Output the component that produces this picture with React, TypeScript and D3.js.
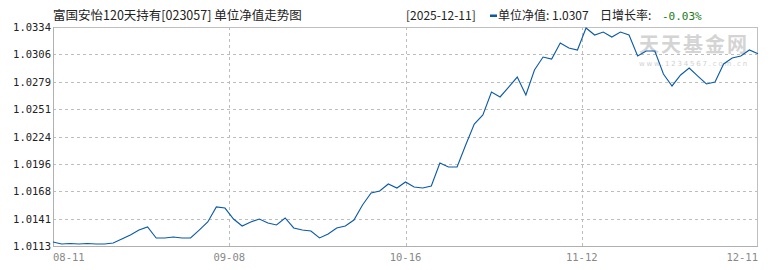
import React from "react";
import * as d3 from "d3";

const navValues: number[] = [
  1.0117, 1.0115, 1.01155, 1.0115, 1.01155, 1.0115, 1.0115, 1.0116, 1.01201, 1.01241,
  1.01291, 1.01322, 1.01211, 1.01211, 1.01221, 1.01211, 1.01211, 1.01291, 1.01372, 1.01524,
  1.01513, 1.01402, 1.01332, 1.01372, 1.01402, 1.01362, 1.01342, 1.01413, 1.01312, 1.01291,
  1.01281, 1.01211, 1.01251, 1.01312, 1.01332, 1.01392, 1.01544, 1.01665, 1.01685, 1.01756,
  1.01715, 1.01776, 1.01725, 1.01715, 1.01735, 1.01968, 1.01927, 1.01927, 1.02149, 1.02361,
  1.02452, 1.02684, 1.02634, 1.02734, 1.02835, 1.02654, 1.02906, 1.03037, 1.03017, 1.03178,
  1.03128, 1.03108, 1.0333, 1.03259, 1.03289, 1.03239, 1.03289, 1.03259, 1.03047, 1.03098,
  1.03098, 1.02866, 1.02745, 1.02856, 1.02926, 1.02845, 1.02765, 1.02785, 1.02967, 1.03027,
  1.03047, 1.03108, 1.0307,
];

const xTickLabels: string[] = ["08-11", "09-08", "10-16", "11-12", "12-11"];
const yMin = 1.0113;
const yMax = 1.0334;
const yTickCount = 8;

const titleText = "富国安怡120天持有[023057] 单位净值走势图";
const dateText = "[2025-12-11]";
const navLabel = "单位净值: 1.0307";
const rateLabel = "日增长率:";
const rateValue = "-0.03%";

const W = 770;
const H = 270;
const margin = { left: 53, right: 12, top: 27, bottom: 24 };

export default function App() {
  const innerW = W - margin.left - margin.right;
  const innerH = H - margin.top - margin.bottom;
  const x = d3.scaleLinear().domain([0, navValues.length - 1]).range([margin.left, margin.left + innerW]);
  const y = d3.scaleLinear().domain([yMin, yMax]).range([margin.top + innerH, margin.top]);
  const yTicks = d3.range(yTickCount + 1).map((i) => yMin + ((yMax - yMin) * i) / yTickCount);
  const xTicks = xTickLabels.map((label, i) => ({
    label,
    pos: ((navValues.length - 1) * i) / (xTickLabels.length - 1),
  }));
  const line = d3
    .line<number>()
    .x((_, i) => x(i))
    .y((d) => y(d));
  const left = margin.left;
  const right = margin.left + innerW;
  const top = margin.top;
  const bottom = margin.top + innerH;
  const mono = "'DejaVu Sans Mono', monospace";
  const cjk = "'Noto Sans CJK SC', sans-serif";

  return (
    <svg width={W} height={H} style={{ position: "absolute", left: 0, top: 0, background: "#fff" }}>
      <rect x={0} y={0} width={W} height={H} fill="#fff" />
      {/* horizontal grid */}
      {yTicks.slice(1, -1).map((t, i) => (
        <line key={"hg" + i} x1={left} x2={right} y1={Math.round(y(t)) + 0.5} y2={Math.round(y(t)) + 0.5}
          stroke="#bdbdbd" strokeDasharray="3,3" />
      ))}
      {/* vertical grid */}
      {xTicks.slice(1, -1).map((t, i) => (
        <line key={"vg" + i} x1={Math.round(x(t.pos)) + 0.5} x2={Math.round(x(t.pos)) + 0.5} y1={top} y2={bottom}
          stroke="#bdbdbd" strokeDasharray="3,3" />
      ))}
      {/* watermark */}
      <text x={694} y={52} textAnchor="middle" fontFamily={cjk} fontWeight="bold" fontSize={20}
        fill="#d4d4d4" letterSpacing={2}>天天基金网</text>
      <text x={694} y={66} textAnchor="middle" fontFamily="'DejaVu Sans', sans-serif" fontSize={7}
        fill="#d0d0d0" letterSpacing={1.8}>www.1234567.com.cn</text>
      {/* frame */}
      <rect x={left + 0.5} y={top + 0.5} width={innerW - 1} height={innerH} fill="none" stroke="#c0c0c0" />
      <line x1={left + 0.5} x2={left + 0.5} y1={top} y2={bottom + 1} stroke="#b0b0b0" />
      <line x1={left} x2={right} y1={bottom + 0.5} y2={bottom + 0.5} stroke="#b0b0b0" />
      {/* line */}
      <path d={line(navValues) || ""} fill="none" stroke="#0a5aa8" strokeWidth={1.1} />
      {/* y labels */}
      {yTicks.map((t, i) => (
        <text key={"yl" + i} x={left - 2} y={y(t) + 4} textAnchor="end" fontFamily={mono} fontSize={10.5}
          fill="#222">{t.toFixed(4)}</text>
      ))}
      {/* x labels */}
      {xTicks.map((t, i) => (
        <text key={"xl" + i} x={x(t.pos)} y={261}
          textAnchor={i === 0 ? "start" : i === xTicks.length - 1 ? "end" : "middle"}
          fontFamily={mono} fontSize={10.5} fill="#888">{t.label}</text>
      ))}
      {/* header */}
      <text x={53} y={20} fontFamily={cjk} fontSize={12.5} fill="#222">{titleText}</text>
      <text x={406} y={20} fontFamily={cjk} fontSize={12} fill="#222">{dateText}</text>
      <rect x={490} y={14.5} width={7} height={2.5} fill="#0a5aa8" />
      <text x={498} y={20} fontFamily={cjk} fontSize={12} fill="#222">{navLabel}</text>
      <text x={600} y={20} fontFamily={cjk} fontSize={12} fill="#222">{rateLabel}</text>
      <text x={662} y={20} fontFamily={mono} fontSize={11} fill="#1a7a1a">{rateValue}</text>
    </svg>
  );
}
